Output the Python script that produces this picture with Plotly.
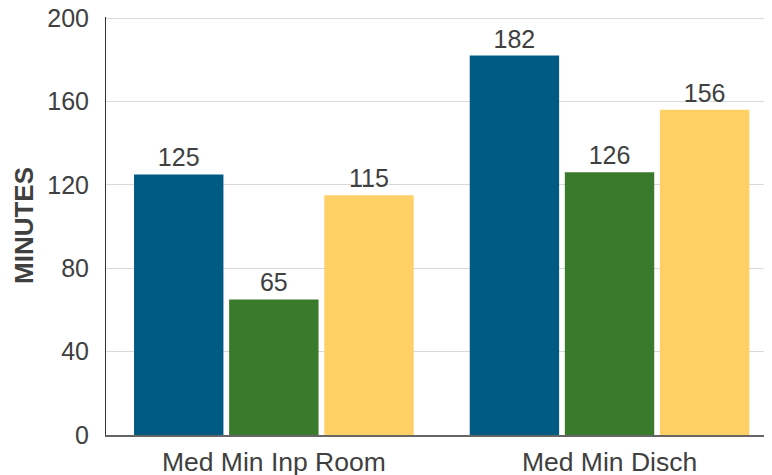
import plotly.graph_objects as go

categories = ["Med Min Inp Room", "Med Min Disch"]
series_a = [125, 182]
series_b = [65, 126]
series_c = [115, 156]
colors = ["#005A84", "#3A7A2C", "#FFD066"]
y_ticks = [0, 40, 80, 120, 160, 200]

FONT = "Liberation Sans, Arial"

fig = go.Figure()
for vals, col in zip([series_a, series_b, series_c], colors):
    fig.add_trace(go.Bar(
        x=categories, y=vals, marker=dict(color=col, line=dict(width=0)),
        text=[str(v) for v in vals], textposition="outside",
        textfont=dict(size=25, color="#404040", family=FONT),
        cliponaxis=False,
    ))

# page body has an 8px margin, so the figure is sized to fit the window
fig.update_layout(
    template="none",
    width=764, height=467,
    margin=dict(l=98, r=0, t=9, b=40, autoexpand=False),
    paper_bgcolor="white", plot_bgcolor="white",
    barmode="group", bargap=0.15, bargroupgap=0.06,
    showlegend=False,
    font=dict(family=FONT, size=25, color="#404040"),
)
fig.update_xaxes(
    type="category", range=[-0.5, 1.484], automargin=False,
    showline=True, linecolor="#666666", linewidth=2,
    tickfont=dict(size=26.5, color="#404040", family=FONT),
    showgrid=False, ticks="", ticklabelstandoff=2,
    ticklabeloverflow="allow",
)
fig.update_yaxes(
    range=[0, 200.5], tickvals=y_ticks, automargin=False,
    showline=True, linecolor="#333333", linewidth=1,
    showgrid=True, gridcolor="#D9D9D9", gridwidth=1,
    tickfont=dict(size=25, color="#404040", family=FONT),
    ticks="", ticklabelstandoff=11, zeroline=False,
    ticklabeloverflow="allow",
)
fig.add_annotation(
    text="<b>MINUTES</b>", textangle=-90, xref="paper", yref="paper",
    x=-(98 - 16) / 666, y=0.5, showarrow=False,
    font=dict(size=26, color="#404040", family=FONT), xanchor="center", yanchor="middle",
)
fig.write_html("out.html")
